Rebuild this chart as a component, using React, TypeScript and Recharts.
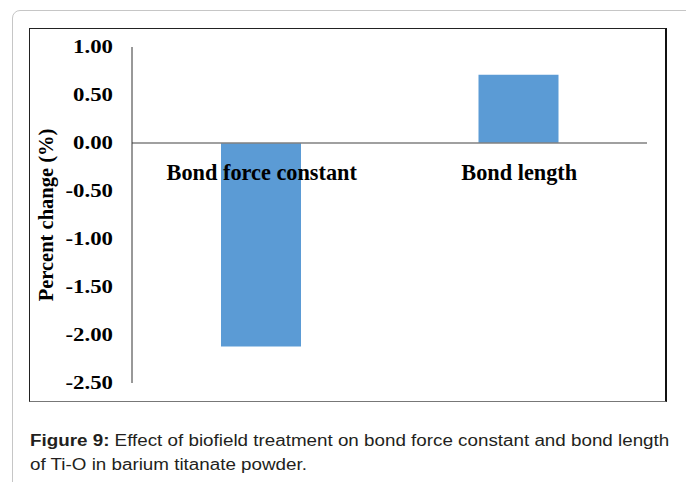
import { Bar, BarChart, Label, ReferenceLine, XAxis, YAxis } from "recharts";

const categories = ["Bond force constant", "Bond length"];
const percentChange = [-2.12, 0.71];
const yTicks = [1, 0.5, 0, -0.5, -1, -1.5, -2, -2.5];

const data = categories.map((name, i) => ({ name, value: percentChange[i] }));

const SERIF = '"Liberation Serif", "Times New Roman", serif';
const CHART_W = 638;
const CHART_H = 373;
const X_AXIS_H = 10;
const MARGIN = { top: 19, right: 20, bottom: 18 - X_AXIS_H, left: 0 };
const Y_AXIS_W = 103;
const PLOT_H = CHART_H - MARGIN.top - MARGIN.bottom - X_AXIS_H;
const DOMAIN: [number, number] = [-2.5, 1];
// category labels sit just under the zero line, not at the bottom of the plot
const ZERO_Y = MARGIN.top + (PLOT_H * DOMAIN[1]) / (DOMAIN[1] - DOMAIN[0]);

function YTick({ x, y, payload }: any) {
  return (
    <text
      transform={`translate(${x},${y}) scale(1.17,1)`}
      textAnchor="end"
      dominantBaseline="central"
      fontFamily={SERIF}
      fontWeight="bold"
      fontSize={19.5}
      fill="#000"
    >
      {Number(payload.value).toFixed(2)}
    </text>
  );
}

function CategoryTick({ x, payload }: any) {
  return (
    <text
      x={x + 1}
      y={ZERO_Y + 37}
      textAnchor="middle"
      fontFamily={SERIF}
      fontWeight="bold"
      fontSize={22.3}
      fill="#000"
    >
      {payload.value}
    </text>
  );
}

export default function App() {
  return (
    <div style={{ position: "absolute", left: 0, top: 0, width: 686, height: 482, overflow: "hidden", background: "#fff" }}>
      <div
        style={{
          position: "absolute",
          left: 12,
          top: 10,
          width: 690,
          height: 520,
          border: "1px solid #c6c6c6",
          borderRadius: 8,
          boxSizing: "border-box",
        }}
      />
      <div
        style={{
          position: "absolute",
          left: 29,
          top: 28,
          width: CHART_W,
          height: CHART_H + 1,
          borderTop: "1px solid #222",
          borderLeft: "1px solid #222",
          borderRight: "2px solid #111",
          borderBottom: "1px solid #777",
          boxSizing: "border-box",
        }}
      />
      <div style={{ position: "absolute", left: 29, top: 28 }}>
        <BarChart width={CHART_W} height={CHART_H} data={data} margin={MARGIN}>
          <XAxis
            dataKey="name"
            height={X_AXIS_H}
            axisLine={false}
            tickLine={false}
            tick={<CategoryTick />}
            interval={0}
          />
          <YAxis
            width={Y_AXIS_W}
            domain={DOMAIN}
            ticks={yTicks}
            interval={0}
            tickLine={false}
            tickSize={0}
            tickMargin={19}
            axisLine={{ stroke: "#333" }}
            tick={<YTick />}
          >
            <Label
              content={() => (
                <text
                  x={17}
                  y={MARGIN.top + PLOT_H / 2}
                  transform={`rotate(-90 17 ${MARGIN.top + PLOT_H / 2})`}
                  textAnchor="middle"
                  dominantBaseline="central"
                  fontFamily={SERIF}
                  fontWeight="bold"
                  fontSize={20.5}
                  fill="#000"
                >
                  Percent change (%)
                </text>
              )}
            />
          </YAxis>
          <ReferenceLine y={0} stroke="#808080" strokeWidth={1.5} />
          <Bar dataKey="value" fill="#5B9BD5" barSize={80} isAnimationActive={false} />
        </BarChart>
      </div>
      <div
        style={{
          position: "absolute",
          left: 30,
          top: 429,
          fontFamily: '"Liberation Sans", Arial, sans-serif',
          fontSize: 16,
          lineHeight: "24px",
          color: "#231f20",
          whiteSpace: "nowrap",
          transform: "scaleX(1.175)",
          transformOrigin: "left top",
        }}
      >
        <b>Figure 9:</b> Effect of biofield treatment on bond force constant and bond length
        <br />
        of Ti-O in barium titanate powder.
      </div>
    </div>
  );
}
